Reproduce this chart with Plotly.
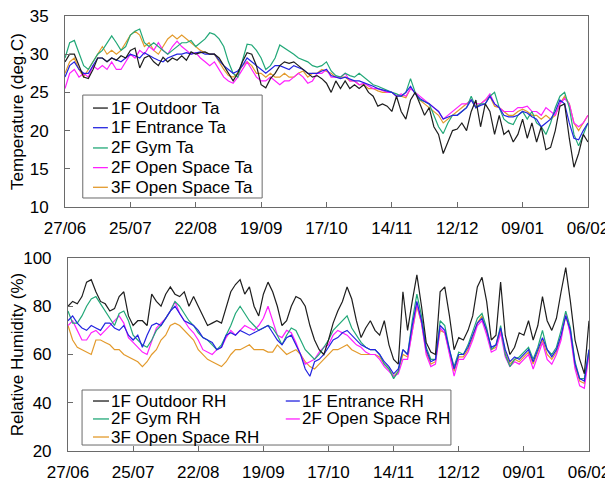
import datetime as dt
import plotly.graph_objects as go

# ---------------- data (values every 2 days from 27/06) ----------------
start = dt.date(2009, 6, 27)
step_days = 2
tick_labels = ["27/06", "25/07", "22/08", "19/09", "17/10", "14/11", "12/12", "09/01", "06/02"]
tick_step_days = 28

ta_outdoor = [
    29, 30, 30, 28.5, 27, 26.8, 28, 29.5, 29.5, 29,
    29.5, 29.2, 29.8, 29.5, 30.5, 30.8, 28.2, 29.5, 29.8, 29,
    28.5, 29.6, 29, 29.5, 29.2, 29.8, 29.2, 30.3, 30, 30.2,
    30.3, 30, 30, 29.5, 28.5, 27.5, 26.5, 27.5, 29, 30.2,
    30, 28.5, 26, 25.6, 26.8, 27.5, 28.5, 29, 28.8, 29,
    28.5, 28, 27.5, 27, 27.2, 26.8, 26.2, 25, 26.5, 25.5,
    26.5, 25.5, 26, 25.5, 26, 25, 24.5, 23.2, 23.5, 23.2,
    22.5, 24.5, 22.5, 21.5, 24, 25, 23.5, 22, 23, 20.5,
    19.5, 17, 18.5, 20, 20.2, 21, 20, 22.5, 24, 20.5,
    23.5, 22.5, 19.5, 22, 19.5, 20, 18.5, 19.5, 21.5, 19,
    21, 18.5, 20.5, 17.5, 17.8, 20, 23.2, 23.5, 19, 15.2,
    17, 19.5, 18.5]
ta_entrance = [
    27, 28.5, 29, 28, 27.5, 27.5, 28.5, 29.5, 29.5, 29,
    29.5, 29.2, 29, 29.5, 30, 29.8, 29.5, 30.2, 29.8, 29.5,
    29.2, 29, 29.5, 29.8, 30, 30, 30.2, 30, 30.2, 30.3,
    30, 30, 30, 29.2, 28.5, 28, 27.5, 27.8, 28.5, 29.5,
    29, 28.5, 28, 27.5, 28, 28.5, 28.5, 28.3, 28, 28.5,
    28.3, 28, 27.5, 27.5, 27.5, 27.8, 28, 27.2, 27, 26.8,
    27, 26.8, 26.5, 26.5, 26.3, 26, 25.8, 25.5, 25.3, 25.2,
    25, 24.5, 24.5, 25, 25.8, 24.8, 24.2, 23.8, 23.5, 23,
    22.5, 21.5, 21.8, 22, 22, 22.5, 23, 24, 23, 23.3,
    23.5, 24.5, 23.5, 23, 22, 21.8, 21.8, 22, 22.5, 22.3,
    21.8, 21.5, 20.5, 21, 21.5, 22.5, 24, 23.5, 21, 19,
    18.8, 20, 21]
ta_gym = [
    29.5, 31.5, 31.8, 30, 28.5, 28, 29, 30, 30.5, 31.5,
    32.4, 31.5, 30.5, 31, 32.5, 33, 33.3, 31.5, 31, 31.5,
    31, 30.5, 30, 30.5, 31, 31.5, 31.5, 31.8, 31, 31.5,
    32, 32.8, 32.6, 32, 31, 29, 27.5, 27, 29, 31.3,
    31.2, 30.5, 29.5, 28, 28.5, 29.5, 31.2, 30.8, 30.5, 30,
    29.5, 29.2, 29, 28.5, 28.3, 28.5, 29, 27.8, 27.2, 27,
    27.5, 27.2, 27, 27.5, 27, 26.5, 26, 25.8, 25.5, 25.3,
    25, 24.8, 24.5, 25, 26.8, 25, 24, 23.8, 23.5, 22,
    20.5, 19.6, 21, 22, 22, 22.5, 23, 24.5, 23, 23.5,
    23.5, 24.5, 25, 23, 21.5, 21, 20.8, 22, 22.5, 21.5,
    22.5, 21, 20.5, 19.5, 21, 23, 24.5, 25, 23, 19.5,
    18, 19.5, 21]
ta_open2f = [
    25.5, 27.5, 28, 27, 27.5, 27, 28.5, 28, 28.5, 28,
    29, 28, 28, 29, 30, 29.5, 30.5, 30, 31, 30.5,
    31.5, 30.5, 30, 31, 31.7, 31, 30.5, 30, 30.2, 29.5,
    29, 28.5, 29, 28, 27, 26.5, 26.2, 27, 28, 29,
    28, 27, 26.5, 26.5, 27, 26.5, 26, 26.5, 26.5, 27,
    27.5, 27, 26.2, 26.5, 27.5, 27.5, 28, 27, 27, 27,
    27.5, 26.5, 26.5, 26, 26.2, 25.8, 25.5, 25.5, 25.2, 25,
    25, 24.5, 24.8, 24.5, 25.5, 25, 24.5, 24, 23.5, 23,
    22.5, 21.5, 22, 22.5, 23, 23.5, 23.5, 24, 23.5, 23.5,
    24, 24.8, 23.5, 23, 22.5, 22.5, 22.5, 23, 23, 23.2,
    22.5, 22.5, 22, 23, 22.5, 22, 23.5, 24.2, 23.5, 21,
    20.5, 21, 22]
ta_open3f = [
    27.5, 29, 29.5, 28, 27, 28, 29, 30, 31, 30,
    30.5, 30, 30.5, 31.5, 32.5, 33, 32.5, 31, 31.5, 30.5,
    30, 31, 32, 32.5, 32, 32.5, 32, 31.5, 31, 30.5,
    30.2, 30, 30, 29, 28, 27.2, 27, 27.5, 28.5, 29,
    28.5, 27.5, 27.5, 27, 27.5, 27, 27, 27.5, 27, 27,
    27.5, 27.8, 27, 27.5, 27.5, 28, 27.8, 27.5, 27, 27,
    27, 26.5, 26.5, 26, 26, 25.5, 25.5, 25.2, 25, 25,
    25, 24.5, 24.5, 24.3, 25.5, 25, 24, 23.5, 23, 22.5,
    22, 21, 21.5, 22, 22.5, 23, 23.5, 24, 23, 23.5,
    24, 24.5, 23.2, 23, 22.5, 22, 22, 22.5, 22.8, 22.5,
    22, 22, 21.5, 22, 21.5, 22, 23.5, 24.5, 23.5, 21,
    20, 21, 22]

rh_outdoor = [
    80, 82, 81, 84, 90, 91, 86, 82, 81, 78,
    79, 84, 86, 76, 72, 74, 74, 72, 85, 82,
    80, 85, 88, 85, 84, 86, 80, 84, 80, 76,
    72, 73, 74, 73, 80, 86, 89, 91, 85, 88,
    80, 76, 85, 90, 86, 80, 72, 74, 80, 84,
    83, 80, 72, 66, 62, 60, 66, 73, 78, 82,
    88, 83, 74, 67, 71, 74, 70, 68, 74, 64,
    58, 56, 86, 70, 82, 93, 80, 65, 61, 60,
    86, 88, 76, 62, 67, 66, 70, 76, 88, 92,
    82, 66, 68, 90, 68, 60, 63, 69, 68, 74,
    66, 72, 84, 74, 70, 75, 86, 96, 82, 66,
    58, 52, 74]
rh_entrance = [
    74, 76, 73, 71, 70, 72, 71, 70, 73, 73,
    71, 70, 72, 68, 66, 68, 63, 68, 72, 73,
    72, 75, 78, 80, 77, 74, 73, 72, 70, 67,
    66, 65, 62, 63, 68, 69, 68, 70, 69, 68,
    69, 70, 71, 72, 69, 66, 64, 67, 68, 64,
    60, 54, 51, 57, 58, 60, 63, 66, 67, 69,
    70, 68, 66, 64, 63, 62, 62, 60, 57, 55,
    52, 54, 62, 60, 72, 82, 74, 62, 57, 58,
    72, 70, 62, 54, 60, 60, 63, 68, 73, 75,
    70, 63, 64, 71, 62, 57, 59, 58, 60, 62,
    57, 62, 67, 62, 59, 62, 68, 76, 70, 56,
    50, 49, 62]
rh_gym = [
    78, 73, 73, 76, 80, 83, 84, 81, 78, 75,
    72, 77, 78, 74, 68, 66, 64, 63, 66, 70,
    72, 75, 78, 82, 80, 77, 74, 72, 69, 67,
    66, 64, 62, 64, 68, 72, 77, 80, 77, 74,
    72, 70, 71, 72, 71, 68, 64, 68, 71, 70,
    66, 62, 60, 58, 60, 63, 66, 70, 72, 74,
    76, 71, 68, 65, 63, 62, 62, 60, 56, 54,
    50, 53, 62, 60, 74, 85, 76, 63, 58, 58,
    74, 72, 62, 55, 61, 60, 64, 70, 75, 77,
    71, 62, 64, 72, 60, 55, 58, 59, 61, 63,
    58, 63, 70, 62, 60, 63, 70, 78, 71, 57,
    50, 50, 62]
rh_open2f = [
    72, 74, 70, 66, 66, 69, 70, 68, 70, 72,
    74, 76, 73, 67, 65, 63, 61, 60, 66, 71,
    73, 75, 78, 82, 77, 74, 71, 69, 66, 62,
    61, 60, 62, 63, 67, 70, 68, 70, 72, 71,
    70, 72, 75, 80, 74, 68, 67, 70, 69, 65,
    60, 56, 57, 58, 61, 63, 64, 68, 70, 69,
    68, 66, 64, 63, 61, 60, 60, 58, 55, 53,
    51, 52, 58, 58, 70, 81, 73, 60, 55, 56,
    71, 69, 60, 51, 58, 58, 61, 66, 72, 74,
    68, 61, 62, 69, 59, 55, 57, 56, 58, 60,
    54, 60, 65, 58, 56, 60, 66, 77, 68, 54,
    47, 46, 60]
rh_open3f = [
    72, 66, 63, 62, 61, 60, 66, 66, 65, 64,
    62, 62, 60, 59, 58, 57, 55, 57, 60, 62,
    66, 68, 72, 73, 72, 70, 68, 66, 62, 60,
    58, 57, 56, 55, 57, 60, 62, 62, 63, 64,
    62, 62, 62, 61, 61, 64, 62, 60, 61, 62,
    60, 57, 55, 54, 56, 58, 60, 62, 62, 63,
    64, 62, 61, 60, 60, 60, 60, 59, 56, 54,
    51, 53, 60, 59, 70, 80, 73, 61, 56, 57,
    70, 69, 61, 53, 59, 59, 62, 67, 73, 76,
    69, 62, 63, 70, 61, 56, 58, 57, 59, 61,
    56, 61, 66, 60, 58, 61, 67, 76, 69, 55,
    49, 48, 61]

names_ta = ["1F Outdoor Ta", "1F Entrance Ta", "2F Gym Ta", "2F Open Space Ta", "3F Open Space Ta"]
names_rh = ["1F Outdoor RH", "1F Entrance RH", "2F Gym RH", "2F Open Space RH", "3F Open Space RH"]
colors = ["#1e1e1e", "#2424e0", "#22a878", "#ff20ff", "#e39a2c"]

# ---------------- figure ----------------
FONT = "Liberation Sans, Arial, sans-serif"
FRAME = "#6a6a6a"


def dates(n):
    return [start + dt.timedelta(days=step_days * i) for i in range(n)]


fig = go.Figure()
ta_series = [ta_outdoor, ta_entrance, ta_gym, ta_open2f, ta_open3f]
rh_series = [rh_outdoor, rh_entrance, rh_gym, rh_open2f, rh_open3f]
order = [4, 3, 2, 1, 0]  # black drawn last (on top)
for i in order:
    fig.add_trace(go.Scatter(x=dates(len(ta_series[i])), y=ta_series[i], mode="lines",
                             name=names_ta[i], line=dict(color=colors[i], width=1.2),
                             xaxis="x", yaxis="y", showlegend=False))
for i in order:
    fig.add_trace(go.Scatter(x=dates(len(rh_series[i])), y=rh_series[i], mode="lines",
                             name=names_rh[i], line=dict(color=colors[i], width=1.2),
                             xaxis="x2", yaxis="y2", showlegend=False))

# ---------------- legend boxes (drawn as keys + text) ----------------
shapes = []
annotations = []
# top: one column of five entries
shapes.append(dict(type="rect", xref="x domain", yref="y domain", x0=0.034, x1=0.377,
                   y0=0.047, y1=0.586, line=dict(color=FRAME, width=1),
                   fillcolor="white", layer="above"))
top_rows = [0.518, 0.415, 0.309, 0.206, 0.103]
for i, yy in enumerate(top_rows):
    shapes.append(dict(type="line", xref="x domain", yref="y domain", x0=0.0535, x1=0.082,
                       y0=yy, y1=yy, line=dict(color=colors[i], width=1.3), layer="above"))
    annotations.append(dict(xref="x domain", yref="y domain", x=0.084, y=yy, text=names_ta[i],
                            showarrow=False, xanchor="left", yanchor="middle",
                            font=dict(family=FONT, size=17, color="black")))
# bottom: two columns
shapes.append(dict(type="rect", xref="x2 domain", yref="y2 domain", x0=0.027, x1=0.735,
                   y0=0.031, y1=0.316, line=dict(color=FRAME, width=1),
                   fillcolor="white", layer="above"))
bot_pos = [(0, 0.259), (1, 0.259), (0, 0.166), (1, 0.166), (0, 0.0725)]
col_x = [(0.048, 0.0787, 0.0787), (0.418, 0.445, 0.445)]
for i, (c, yy) in enumerate(bot_pos):
    x0, x1, tx = col_x[c]
    shapes.append(dict(type="line", xref="x2 domain", yref="y2 domain", x0=x0, x1=x1,
                       y0=yy, y1=yy, line=dict(color=colors[i], width=1.3), layer="above"))
    annotations.append(dict(xref="x2 domain", yref="y2 domain", x=tx, y=yy, text=names_rh[i],
                            showarrow=False, xanchor="left", yanchor="middle",
                            font=dict(family=FONT, size=17, color="black")))

tickvals = [start + dt.timedelta(days=tick_step_days * k) for k in range(len(tick_labels))]
xr = [tickvals[0], tickvals[-1]]

axis_common = dict(showline=True, linecolor=FRAME, linewidth=1, mirror=True,
                   ticks="inside", ticklen=5, tickcolor=FRAME, showgrid=False,
                   zeroline=False, automargin=False, ticklabeloverflow="allow",
                   tickfont=dict(family=FONT, size=17, color="black"))

# the page adds an 8 px body margin, so the figure is 8 px smaller and shifted
fig.update_layout(
    width=605, height=476,
    margin=dict(l=57, r=24, t=8, b=33, autoexpand=False),
    paper_bgcolor="white", plot_bgcolor="white",
    font=dict(family=FONT, size=17, color="black"),
    showlegend=False,
    xaxis=dict(domain=[0, 0.998], range=xr, tickvals=tickvals, ticktext=tick_labels,
               anchor="y", ticklabelstandoff=6, **axis_common),
    yaxis=dict(domain=[0.561, 1.0], range=[10, 35], dtick=5, anchor="x",
               ticklabelstandoff=12,
               title=dict(text="Temperature (deg.C)", font=dict(size=17), standoff=6),
               **axis_common),
    xaxis2=dict(domain=[0.0057, 1.0], range=xr, tickvals=tickvals, ticktext=tick_labels,
                anchor="y2", ticklabelstandoff=6, **axis_common),
    yaxis2=dict(domain=[0.0, 0.4437], range=[20, 100], dtick=20, anchor="x2",
                ticklabelstandoff=12,
                title=dict(text="Relative Humidity (%)", font=dict(size=17), standoff=4),
                **axis_common),
    shapes=shapes,
    annotations=annotations,
)

fig.write_html("out.html")
